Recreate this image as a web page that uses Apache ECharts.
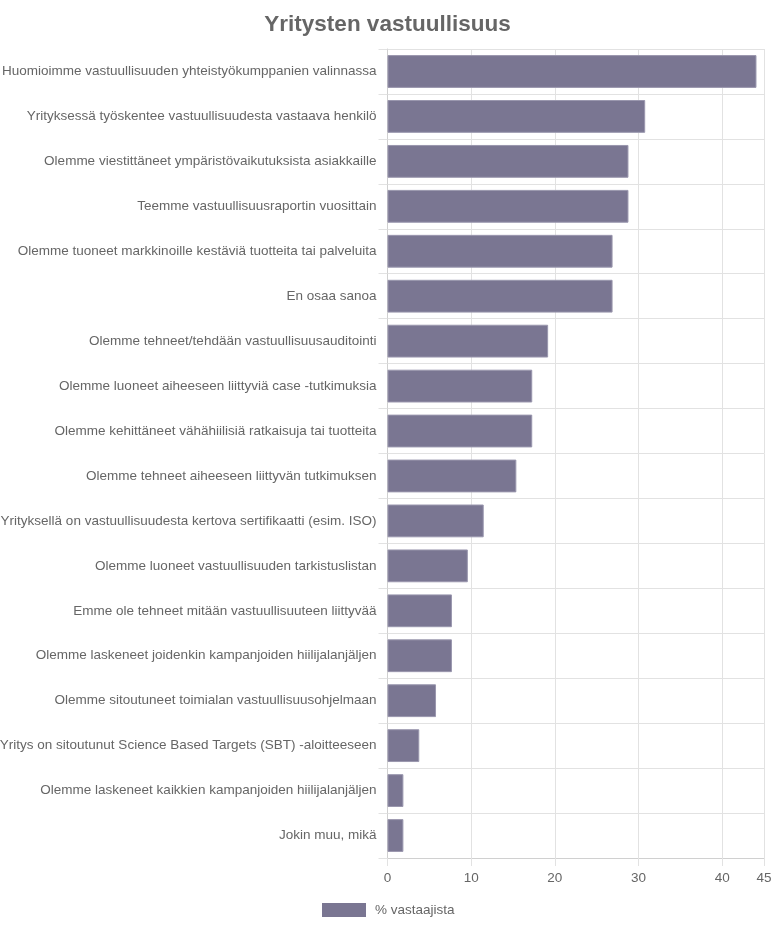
<!DOCTYPE html>
<html>
<head>
<meta charset="utf-8">
<script src="https://cdn.jsdelivr.net/npm/echarts@6/dist/echarts.min.js"></script>
<style>
  html, body { margin: 0; padding: 0; background: #fff; }
  #chart { width: 775px; height: 927px; }
</style>
</head>
<body>
<div id="chart"></div>
<script>
const categories = [
    'Huomioimme vastuullisuuden yhteistyökumppanien valinnassa',
    'Yrityksessä työskentee vastuullisuudesta vastaava henkilö',
    'Olemme viestittäneet ympäristövaikutuksista asiakkaille',
    'Teemme vastuullisuusraportin vuosittain',
    'Olemme tuoneet markkinoille kestäviä tuotteita tai palveluita',
    'En osaa sanoa',
    'Olemme tehneet/tehdään vastuullisuusauditointi',
    'Olemme luoneet aiheeseen liittyviä case -tutkimuksia',
    'Olemme kehittäneet vähähiilisiä ratkaisuja tai tuotteita',
    'Olemme tehneet aiheeseen liittyvän tutkimuksen',
    'Yrityksellä on vastuullisuudesta kertova sertifikaatti (esim. ISO)',
    'Olemme luoneet vastuullisuuden tarkistuslistan',
    'Emme ole tehneet mitään vastuullisuuteen liittyvää',
    'Olemme laskeneet joidenkin kampanjoiden hiilijalanjäljen',
    'Olemme sitoutuneet toimialan vastuullisuusohjelmaan',
    'Yritys on sitoutunut Science Based Targets (SBT) -aloitteeseen',
    'Olemme laskeneet kaikkien kampanjoiden hiilijalanjäljen',
    'Jokin muu, mikä'
];
const values = [44.1, 30.8, 28.8, 28.8, 26.9, 26.9, 19.2, 17.3, 17.3, 15.4, 11.5, 9.6, 7.7, 7.7, 5.8, 3.8, 1.9, 1.9];
const seriesName = '% vastaajista';
const titleText = 'Yritysten vastuullisuus';

const chart = echarts.init(document.getElementById('chart'));
const font = 'Liberation Sans, Arial, sans-serif';
chart.setOption({
    animation: false,
    textStyle: { fontFamily: font },
    title: {
        text: titleText,
        left: 'center',
        top: 8,
        textStyle: { fontSize: 22.5, fontWeight: 'bold', color: '#666', fontFamily: font }
    },
    legend: {
        bottom: 5,
        left: 317,
        icon: 'rect',
        itemWidth: 44,
        itemHeight: 14,
        itemGap: 10,
        itemStyle: { borderWidth: 0 },
        textStyle: { fontSize: 13.5, color: '#666', fontFamily: font, padding: [0, 0, 0, 4] },
        data: [seriesName]
    },
    grid: { left: 387.5, right: 11, top: 49, bottom: 69, containLabel: false, outerBoundsMode: 'none' },
    xAxis: {
        type: 'value',
        min: 0,
        max: 45,
        interval: 10,
        axisLine: { show: true, lineStyle: { color: '#d0d0d0' } },
        axisTick: { show: true, length: 8, lineStyle: { color: '#e2e2e2' } },
        splitLine: { show: true, lineStyle: { color: '#e2e2e2' } },
        axisLabel: { fontSize: 13.5, color: '#666', margin: 13, showMaxLabel: true }
    },
    yAxis: {
        type: 'category',
        inverse: true,
        data: categories,
        axisLine: { show: true, lineStyle: { color: '#d0d0d0' } },
        axisTick: { show: true, length: 9, lineStyle: { color: '#e2e2e2' } },
        splitLine: { show: true, lineStyle: { color: '#e2e2e2' } },
        axisLabel: { fontSize: 13.5, color: '#666', margin: 11, interval: 0 }
    },
    series: [{
        name: seriesName,
        type: 'bar',
        data: values,
        barCategoryGap: '27%',
        itemStyle: { color: '#7a7692', borderColor: '#9a97ae', borderWidth: 1 }
    }]
});
</script>
</body>
</html>
